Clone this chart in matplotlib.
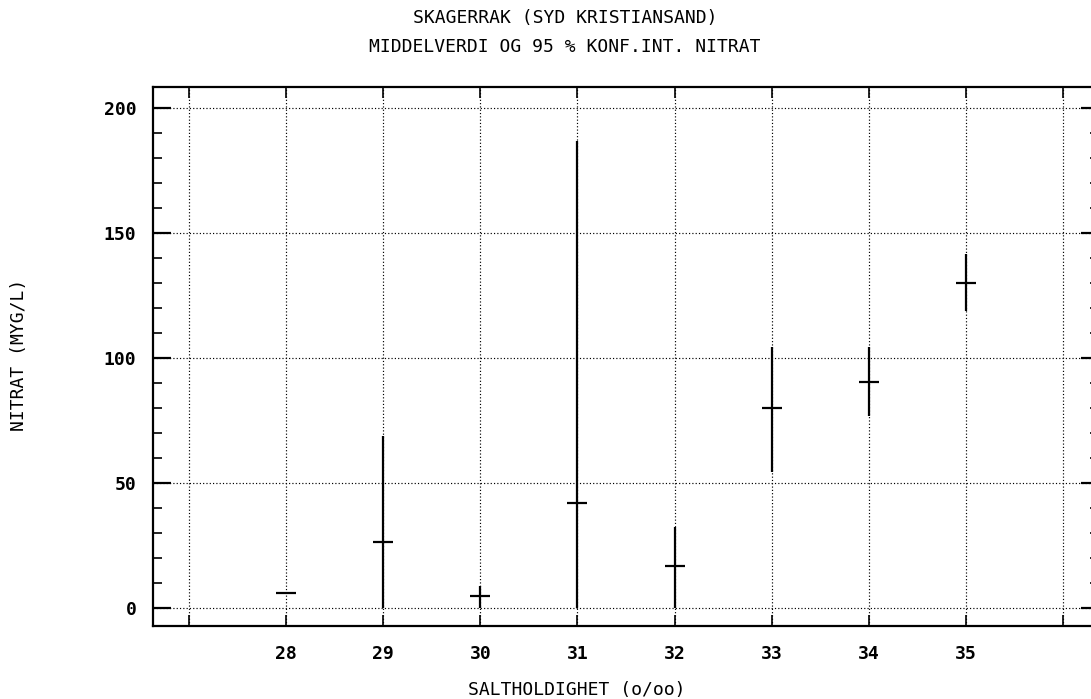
import matplotlib
matplotlib.use("Agg")
import matplotlib.pyplot as plt
import numpy as np

# Data
salinity = [28, 29, 30, 31, 32, 33, 34, 35]
mean_nitrate = [6.0, 26.5, 4.8, 42.0, 17.0, 80.0, 90.5, 130.0]
ci_lower = [5.5, 0.0, 0.0, 0.0, 0.0, 54.5, 77.0, 119.0]
ci_upper = [6.5, 69.0, 9.0, 187.0, 32.5, 104.5, 104.5, 141.5]
x_ticks = [27, 28, 29, 30, 31, 32, 33, 34, 35, 36]
x_ticklabels = ["", "28", "29", "30", "31", "32", "33", "34", "35", ""]
y_ticks = [0, 50, 100, 150, 200]
title_lines = ["SKAGERRAK (SYD KRISTIANSAND)", "MIDDELVERDI OG 95 % KONF.INT. NITRAT"]
x_label = "SALTHOLDIGHET (o/oo)"
y_label = "NITRAT (MYG/L)"

FONT = "DejaVu Sans Mono"
plt.rcParams["font.family"] = [FONT, "DejaVu Sans"]

W, H = 1091, 699
fig = plt.figure(figsize=(W / 100, H / 100), dpi=100)
L, R, T, B = 153, 1099, 87, 626
ax = fig.add_axes([L / W, 1 - B / H, (R - L) / W, (B - T) / H])

ax.set_xlim(26.63, 36.37)
ax.set_ylim(-7.2, 208.4)

# grid
dots = (0, (1, 1.8))
for xv in x_ticks:
    ax.axvline(xv, color="black", lw=0.85, ls=dots, zorder=1)
for yv in y_ticks:
    ax.axhline(yv, color="black", lw=0.85, ls=dots, zorder=1)

# confidence intervals and means
ax.vlines(salinity, ci_lower, ci_upper, color="black", lw=1.6, zorder=3)
ax.plot(salinity, mean_nitrate, ls="none", marker="_", markersize=15,
        markeredgewidth=1.6, color="black", zorder=4)

ax.set_xticks(x_ticks)
ax.set_xticklabels(x_ticklabels)
ax.set_yticks(y_ticks)
ax.set_yticks(np.arange(0, 210, 10), minor=True)
ax.tick_params(axis="x", which="major", direction="in", length=8, width=1.2,
               top=True, bottom=True, pad=14, labelsize=13)
ax.tick_params(axis="y", which="major", direction="in", length=13, width=1.6,
               left=True, right=True, pad=12, labelsize=13)
ax.tick_params(axis="y", which="minor", direction="in", length=6.5, width=1.2,
               left=True, right=True)
ax.tick_params(axis="x", which="minor", bottom=False, top=False)
for lab in ax.get_xticklabels() + ax.get_yticklabels():
    lab.set_fontweight("bold")
    lab.set_family(FONT)

for sp in ax.spines.values():
    sp.set_linewidth(1.6)

fig.text(565 / W, 1 - 18 / H, title_lines[0], ha="center", va="center",
         fontsize=13, family=FONT)
fig.text(565 / W, 1 - 47 / H, title_lines[1], ha="center", va="center",
         fontsize=13, family=FONT)
fig.text(577 / W, 1 - 690 / H, x_label, ha="center", va="center",
         fontsize=13, family=FONT)
fig.text(19 / W, 1 - 355 / H, y_label, ha="center", va="center",
         rotation=90, fontsize=13, family=FONT)

fig.savefig("out.png", dpi=100)
